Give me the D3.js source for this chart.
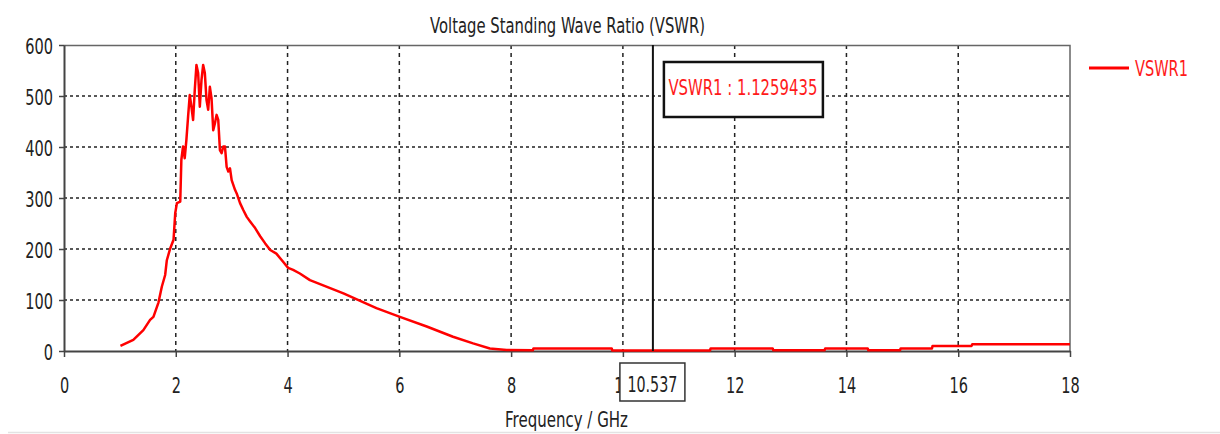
<!DOCTYPE html>
<html>
<head>
<meta charset="utf-8">
<script src="https://cdn.jsdelivr.net/npm/d3@7"></script>
<style>
  body { margin: 0; background: #fff; }
  svg text { font-family: "DejaVu Sans", Verdana, sans-serif; }
</style>
</head>
<body>
<div id="chart"></div>
<script>
// frequency (GHz) and VSWR
const freqGHz = [1.01, 1.24, 1.42, 1.54, 1.60, 1.69, 1.75, 1.81, 1.84, 1.90,
    1.96, 1.99, 2.02, 2.08, 2.10, 2.13, 2.16, 2.19, 2.22, 2.25,
    2.28, 2.31, 2.34, 2.37, 2.40, 2.43, 2.46, 2.49, 2.52, 2.55,
    2.58, 2.61, 2.64, 2.67, 2.70, 2.73, 2.76, 2.79, 2.82, 2.85,
    2.88, 2.91, 2.94, 2.97, 3.00, 3.06, 3.09, 3.15, 3.21, 3.27,
    3.33, 3.42, 3.51, 3.60, 3.69, 3.80, 3.92, 4.01, 4.10, 4.22,
    4.40, 5.00, 5.59, 6.01, 6.49, 6.96, 7.32, 7.62, 7.92, 8.39,
    8.40, 9.80, 9.81, 11.56, 11.57, 12.68, 12.69, 13.61, 13.62, 14.38,
    14.39, 14.96, 14.97, 15.53, 15.54, 16.24, 16.25, 18.0];
const vswr = [10, 22, 41, 61, 67, 95, 126, 149, 178, 201,
    218, 270, 290, 293, 375, 401, 378, 414, 459, 502,
    479, 453, 512, 561, 545, 479, 531, 561, 545, 492,
    473, 518, 495, 433, 446, 463, 453, 394, 388, 401,
    401, 361, 352, 358, 335, 316, 309, 290, 276, 263,
    254, 241, 225, 211, 198, 191, 175, 163, 159, 152,
    139, 113, 84, 67, 48, 28, 15, 5, 2, 1.5,
    5, 5, 1.1, 1.1, 5, 5, 1.5, 1.5, 5, 5,
    1.5, 1.5, 5, 5, 10, 10, 13, 13];

const xTicks = [0, 2, 4, 6, 8, 10, 12, 14, 16, 18];
const yTicks = [0, 100, 200, 300, 400, 500, 600];
const markerFreq = 10.537;
const markerLabel = "10.537";
const markerValue = "VSWR1 : 1.1259435";
const seriesName = "VSWR1";
const title = "Voltage Standing Wave Ratio (VSWR)";
const xLabel = "Frequency / GHz";

const width = 1220, height = 434;
const margin = {top: 45, right: 150, bottom: 83, left: 64};
const innerW = width - margin.left - margin.right;
const innerH = height - margin.top - margin.bottom;

const x = d3.scaleLinear().domain([0, 18]).range([0, innerW]);
const y = d3.scaleLinear().domain([0, 600]).range([innerH, 0]);

// the source uses a narrow font, so squeeze text horizontally
function squeeze(sel, k) {
    sel.each(function () {
        const w = this.getComputedTextLength();
        d3.select(this).attr("textLength", w * k).attr("lengthAdjust", "spacingAndGlyphs");
    });
}
function fitTo(sel, w) {
    sel.attr("textLength", w).attr("lengthAdjust", "spacingAndGlyphs");
}

const svg = d3.select("#chart").append("svg")
    .attr("width", width).attr("height", height);

// faint line at the very bottom of the screenshot
svg.append("line")
    .attr("x1", 8).attr("x2", width).attr("y1", 432.5).attr("y2", 432.5)
    .attr("stroke", "#e3e3e3").attr("stroke-width", 1.5);

svg.append("text")
    .attr("x", 567.5).attr("y", 33)
    .attr("text-anchor", "middle").attr("font-size", 22).attr("fill", "#222")
    .text(title).call(fitTo, 275);

const g = svg.append("g").attr("transform", `translate(${margin.left},${margin.top})`);

// grid
g.append("g").selectAll("line").data(xTicks.slice(1, -1)).join("line")
    .attr("x1", d => x(d)).attr("x2", d => x(d))
    .attr("y1", 0).attr("y2", innerH)
    .attr("stroke", "#222").attr("stroke-width", 1.5).attr("stroke-dasharray", "4,4");
g.append("g").selectAll("line").data(yTicks.slice(1, -1)).join("line")
    .attr("x1", 0).attr("x2", innerW)
    .attr("y1", d => y(d)).attr("y2", d => y(d))
    .attr("stroke", "#222").attr("stroke-width", 1.5).attr("stroke-dasharray", "3,3");

// frame top/right
g.append("path")
    .attr("d", `M0,0.5H${innerW}V${innerH}`)
    .attr("fill", "none").attr("stroke", "#666").attr("stroke-width", 1.5);

// axes
const xAxis = g.append("g").attr("transform", `translate(0,${innerH})`)
    .call(d3.axisBottom(x).tickValues(xTicks).tickSize(6).tickPadding(20).tickSizeOuter(0));
const yAxis = g.append("g")
    .call(d3.axisLeft(y).tickValues(yTicks).tickSize(5).tickPadding(6).tickSizeOuter(0));
[xAxis, yAxis].forEach(a => {
    a.select(".domain").attr("stroke", "#444").attr("stroke-width", 2);
    a.selectAll(".tick line").attr("stroke", "#444").attr("stroke-width", 1.5);
    a.selectAll(".tick text").attr("font-size", 22).attr("fill", "#222")
        .style("font-family", '"DejaVu Sans", Verdana, sans-serif')
        .call(squeeze, 0.66);
});
xAxis.selectAll(".tick text").attr("dy", "0.73em");
yAxis.selectAll(".tick text").attr("dy", "0.37em");

// series
const pts = freqGHz.map((f, i) => [f, vswr[i]]);
g.append("path")
    .datum(pts)
    .attr("fill", "none").attr("stroke", "#ff0000").attr("stroke-width", 2.5)
    .attr("stroke-linejoin", "round")
    .attr("d", d3.line().x(d => x(d[0])).y(d => y(d[1])));

// marker
const mx = x(markerFreq);
g.append("line")
    .attr("x1", mx).attr("x2", mx).attr("y1", 0).attr("y2", innerH)
    .attr("stroke", "#111").attr("stroke-width", 2);

const boxG = g.append("g");
boxG.append("rect")
    .attr("x", mx + 11).attr("y", 17).attr("width", 159).attr("height", 55)
    .attr("fill", "#fff").attr("stroke", "#111").attr("stroke-width", 2.5);
boxG.append("text")
    .attr("x", mx + 90).attr("y", 50).attr("text-anchor", "middle")
    .attr("font-size", 22).attr("fill", "#ff1a1a")
    .text(markerValue).call(fitTo, 149);

const lblG = g.append("g");
lblG.append("rect")
    .attr("x", mx - 33).attr("y", innerH + 12).attr("width", 65).attr("height", 38)
    .attr("fill", "#fff").attr("stroke", "#333").attr("stroke-width", 1.5);
lblG.append("text")
    .attr("x", mx - 0.5).attr("y", innerH + 41).attr("text-anchor", "middle")
    .attr("font-size", 22).attr("fill", "#222")
    .text(markerLabel).call(fitTo, 50);

// x label
svg.append("text")
    .attr("x", 566.5).attr("y", 427)
    .attr("text-anchor", "middle").attr("font-size", 21).attr("fill", "#222")
    .text(xLabel).call(fitTo, 123);

// legend
const lg = svg.append("g").attr("transform", `translate(${margin.left + innerW + 19},68)`);
lg.append("line").attr("x1", 0).attr("x2", 40).attr("y1", 0).attr("y2", 0)
    .attr("stroke", "#ff0000").attr("stroke-width", 3);
lg.append("text").attr("x", 46).attr("y", 8).attr("font-size", 22).attr("fill", "#ff1a1a")
    .text(seriesName).call(fitTo, 53);
</script>
</body>
</html>
